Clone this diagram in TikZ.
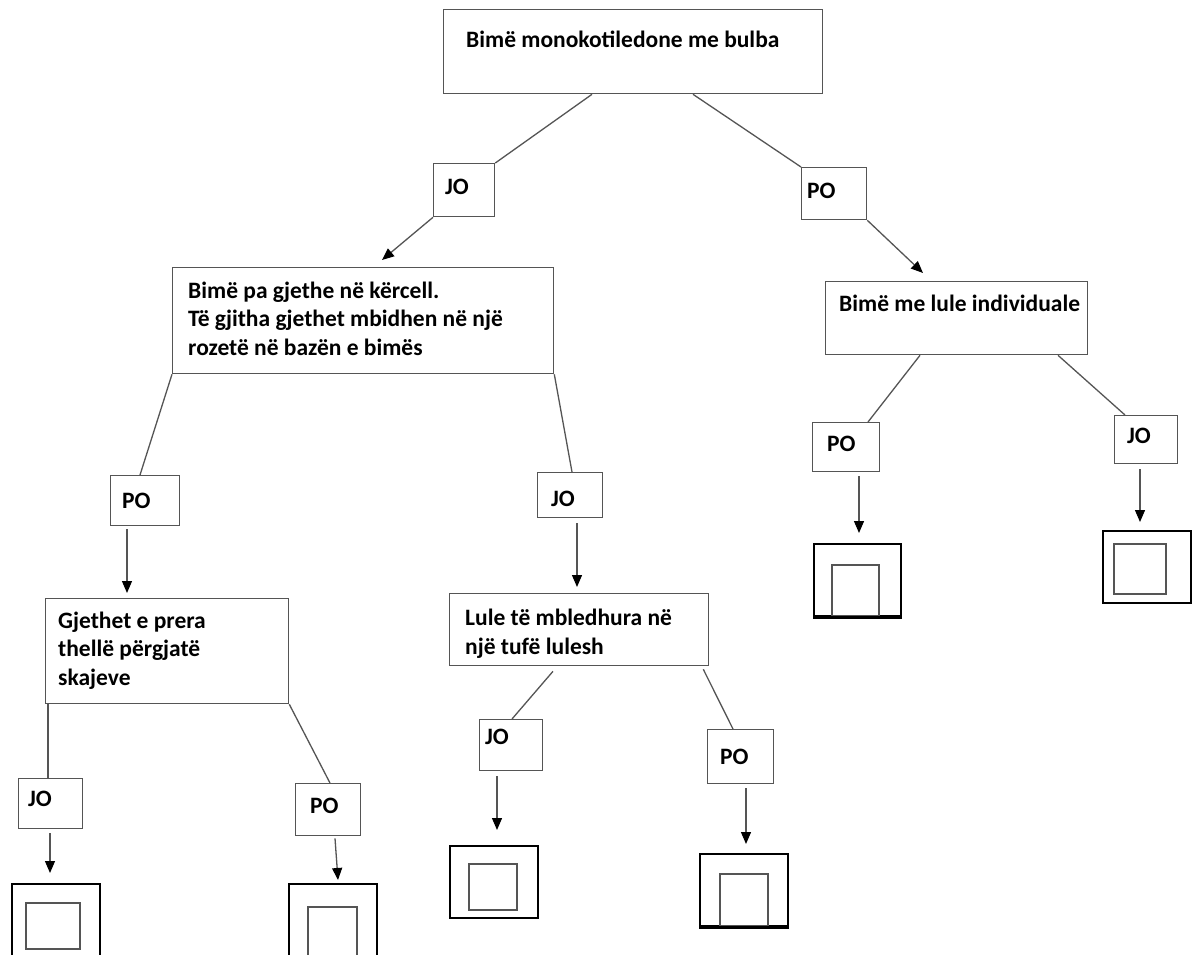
\documentclass[tikz,border=0pt]{standalone}
\usepackage{fontspec}
\setmainfont{Carlito}
\usetikzlibrary{arrows.meta}
\definecolor{edge}{HTML}{555555}
\tikzset{
 box/.style={draw=edge, line width=1.3pt, inner sep=0pt, anchor=north west},
 txt/.style={anchor=base west, inner sep=0pt, align=left, font=\fontsize{23.5}{28.5}\selectfont\bfseries, text=black},
 outerbox/.style={draw=black, line width=2.4pt, inner sep=0pt, anchor=north west},
 innerbox/.style={draw=edge, line width=1.6pt, inner sep=0pt, anchor=north west},
 conn/.style={draw=edge, line width=1.3pt},
 arr/.style={conn, -{Triangle[length=12pt,width=10pt,color=black]}},
}
\begin{document}
\begin{tikzpicture}[x=1pt,y=-1pt]
\fill[white] (0,0) rectangle (1192,955);
\useasboundingbox (0,0) rectangle (1192,955);
\clip (0,0) rectangle (1192,955);
% boxes
\node[box, minimum width=379pt, minimum height=84pt] (root) at (443,9) {};
\node[box, minimum width=61pt, minimum height=53pt] (jo1) at (433,163) {};
\node[box, minimum width=65pt, minimum height=52pt] (po1) at (801,167) {};
\node[box, minimum width=381pt, minimum height=106pt] (a) at (172,267) {};
\node[box, minimum width=262pt, minimum height=73pt] (b) at (825,281) {};
\node[box, minimum width=69pt, minimum height=50pt] (po2) at (110,475) {};
\node[box, minimum width=65pt, minimum height=45pt] (jo2) at (537,472) {};
\node[box, minimum width=67pt, minimum height=49pt] (po3) at (812,422) {};
\node[box, minimum width=63pt, minimum height=48pt] (jo3) at (1114,415) {};
\node[box, minimum width=243pt, minimum height=105pt] (c) at (45,598) {};
\node[box, minimum width=259pt, minimum height=72pt] (d) at (449,593) {};
\node[box, minimum width=64pt, minimum height=50pt] (jo4) at (18,778) {};
\node[box, minimum width=65pt, minimum height=52pt] (po4) at (295,783) {};
\node[box, minimum width=63pt, minimum height=51pt] (jo5) at (479,719) {};
\node[box, minimum width=66pt, minimum height=54pt] (po5) at (707,729) {};
% texts (multi-line texts anchored at the baseline of their last line)
\node[txt] (troot) at (466,48) {Bimë monokotiledone me bulba};
\node[txt] (tjo1) at (445,194) {JO};
\node[txt] (tpo1) at (807,199) {PO};
\node[txt] (ta) at (188,355) {Bimë pa gjethe në kërcell.\\Të gjitha gjethet mbidhen në një\\rozetë në bazën e bimës};
\node[txt] (tb) at (839,311) {Bimë me lule individuale};
\node[txt] (tpo2) at (122,508) {PO};
\node[txt] (tjo2) at (551,506) {JO};
\node[txt] (tpo3) at (827,451) {PO};
\node[txt] (tjo3) at (1127,443) {JO};
\node[txt] (tc) at (58,685) {Gjethet e prera\\thellë përgjatë\\skajeve};
\node[txt] (td) at (465,654) {Lule të mbledhura në\\një tufë lulesh};
\node[txt] (tjo4) at (28,806) {JO};
\node[txt] (tpo4) at (310,813) {PO};
\node[txt] (tjo5) at (485,744) {JO};
\node[txt] (tpo5) at (720,764) {PO};
% leaves
\node[outerbox, minimum width=88pt, minimum height=80pt] (L1) at (11,883) {};
\node[innerbox, minimum width=54pt, minimum height=46pt] (I1) at (25,902) {};
\node[outerbox, minimum width=88pt, minimum height=80pt] (L2) at (288,883) {};
\node[innerbox, minimum width=49pt, minimum height=57pt] (I2) at (307,906) {};
\node[outerbox, minimum width=88pt, minimum height=72pt] (L3) at (449,845) {};
\node[innerbox, minimum width=48pt, minimum height=46pt] (I3) at (468,863) {};
\node[outerbox, minimum width=88pt, minimum height=72pt] (L4) at (699,853) {};
\node[innerbox, minimum width=48pt, minimum height=52pt] (I4) at (719,873) {};
\node[outerbox, minimum width=87pt, minimum height=72pt] (L5) at (813,543) {};
\node[innerbox, minimum width=47pt, minimum height=51pt] (I5) at (831,564) {};
\node[outerbox, minimum width=88pt, minimum height=72pt] (L6) at (1102,530) {};
\node[innerbox, minimum width=52pt, minimum height=50pt] (I6) at (1113,543) {};
\draw[outerbox] (L4.south west) -- (L4.south east);
\draw[outerbox] (L5.south west) -- (L5.south east);
% connectors
\draw[conn] ([xshift=149pt]root.south west) -- (jo1.north east);
\draw[conn] ([xshift=250pt]root.south west) -- (po1.north west);
\draw[arr] (jo1.south west) -- ([xshift=210pt,yshift=7pt]a.north west);
\draw[arr] (po1.south east) -- ([xshift=98pt,yshift=8pt]b.north west);
\draw[conn] (a.south west) -- ([xshift=30pt]po2.north west);
\draw[conn] (a.south east) -- ([xshift=35pt]jo2.north west);
\draw[arr] ([xshift=17pt,yshift=-3pt]po2.south west) -- ([xshift=82pt,yshift=5pt]c.north west);
\draw[arr] ([xshift=40pt,yshift=-5pt]jo2.south west) -- ([xshift=128pt,yshift=6pt]d.north west);
\draw[conn] ([xshift=95pt]b.south west) -- ([xshift=56pt]po3.north west);
\draw[conn] ([xshift=233pt]b.south west) -- ([xshift=11pt]jo3.north west);
\draw[arr] ([xshift=47pt,yshift=-4pt]po3.south west) -- ([xshift=46pt,yshift=10pt]L5.north west);
\draw[arr] ([xshift=26pt,yshift=-5pt]jo3.south west) -- ([xshift=38pt,yshift=8pt]L6.north west);
\draw[conn] ([xshift=3pt]c.south west) -- ([xshift=30pt]jo4.north west);
\draw[conn] (c.south east) -- ([xshift=35pt]po4.north west);
\draw[arr] ([xshift=32pt,yshift=-4pt]jo4.south west) -- ([xshift=39pt,yshift=10pt]L1.north west);
\draw[arr] ([xshift=40pt,yshift=-2pt]po4.south west) -- ([xshift=50pt,yshift=3pt]L2.north west);
\draw[conn] ([xshift=104pt,yshift=-5pt]d.south west) -- ([xshift=33pt]jo5.north west);
\draw[conn] ([xshift=-6pt,yshift=-3pt]d.south east) -- ([xshift=26pt]po5.north west);
\draw[arr] ([xshift=18pt,yshift=-5pt]jo5.south west) -- ([xshift=48pt,yshift=15pt]L3.north west);
\draw[arr] ([xshift=39pt,yshift=-4pt]po5.south west) -- ([xshift=47pt,yshift=9pt]L4.north west);
\end{tikzpicture}
\end{document}
